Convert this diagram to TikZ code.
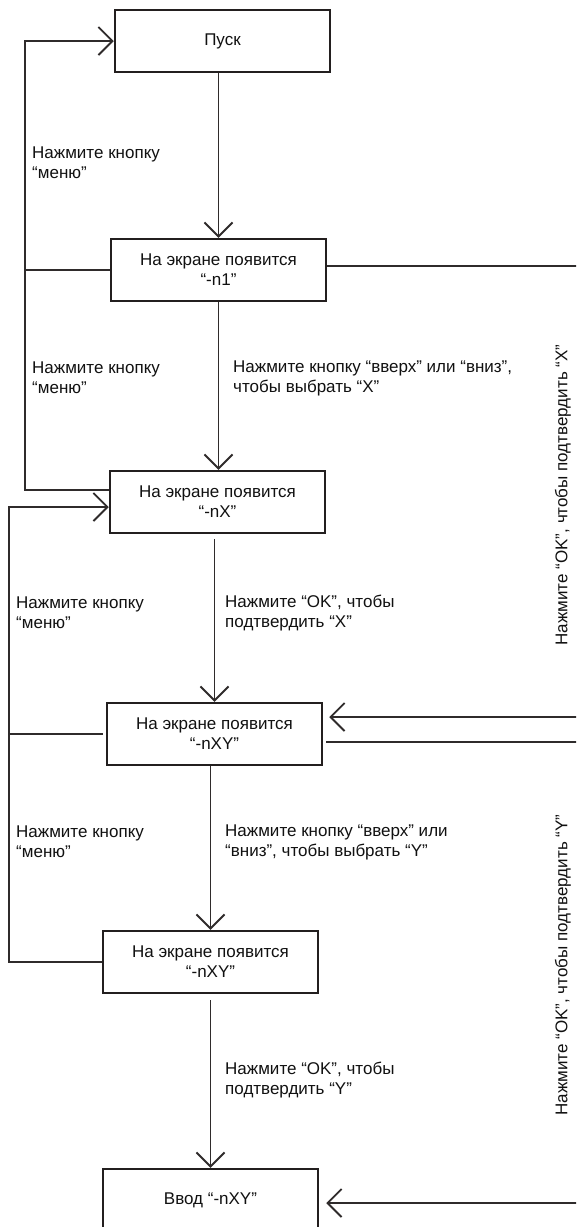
\documentclass[tikz,border=0pt]{standalone}
\usepackage{fontspec}
\setmainfont{Liberation Sans}
\usetikzlibrary{arrows.meta,calc}
\definecolor{linec}{HTML}{2F2B2B}
\definecolor{boxc}{HTML}{231F1F}
\definecolor{textc}{HTML}{111111}
\begin{document}
\begin{tikzpicture}[x=1pt,y=-1pt,
  font=\fontsize{17}{20}\selectfont,
  every node/.style={text=textc},
  box/.style={draw=boxc, line width=2.5pt, minimum width=215pt, minimum height=62pt, align=center, inner sep=0pt},
  conn/.style={draw=linec, line width=1.9pt},
  tip/.style={-{Straight Barb[length=14pt,width=28pt]}},
  lbl/.style={anchor=west, align=left, inner sep=0pt}
]
\clip (0,0) rectangle (576,1227);
\fill[white] (0,0) rectangle (576,1227);

% boxes
\node[box] (b1) at (222.5,41) {Пуск};
\node[box] (b2) at (218.5,270) {На экране появится\\“-n1”};
\node[box] (b3) at (217.5,502) {На экране появится\\“-nX”};
\node[box] (b4) at (214.5,734) {На экране появится\\“-nXY”};
\node[box] (b5) at (210.5,962) {На экране появится\\“-nXY”};
\node[box] (b6) at (210.5,1200) {Ввод “-nXY”};

% helper coordinates
\coordinate (lx1) at (25,0);
\coordinate (lx2) at (9,0);
\coordinate (rx) at (580,0);
\coordinate (out3) at ($(b3.west)+(0,-12)$);
\coordinate (in3) at ($(b3.west)+(0,5)$);
\coordinate (in4) at ($(b4.east)+(0,-17)$);
\coordinate (out4) at ($(b4.east)+(0,8)$);
\coordinate (out2) at ($(b2.east)+(0,-4)$);
\coordinate (in6) at ($(b6.east)+(0,3)$);

% main flow
\draw[conn,tip] (b1.south -| b2.north) -- (b2.north);
\draw[conn,tip] (b2.south) -- (b3.north -| b2.south);
\draw[conn,tip,shorten <=5pt] (b3.south -| b4.north) -- (b4.north);
\draw[conn,tip] (b4.south -| b5.north) -- (b5.north);
\draw[conn,tip,shorten <=6pt] (b5.south) -- (b6.north);

% left loops
\draw[conn,tip] (out3) -| (lx1 |- b1.west) -- (b1.west);
\draw[conn] (b2.west) -- (lx1 |- b2.west);
\draw[conn,tip] (b5.west) -| (lx2 |- in3) -- (in3);
\draw[conn,shorten <=3pt] (b4.west) -- (lx2 |- b4.west);

% right side
\draw[conn] (out2) -- (rx |- out2);
\draw[conn,tip,shorten >=6pt] (rx |- in4) -- (in4);
\draw[conn,shorten <=3pt] (out4) -- (rx |- out4);
\draw[conn,tip,shorten >=7pt] (rx |- in6) -- (in6);

% labels
\node[lbl] (l1) at (32,163) {Нажмите кнопку\\“меню”};
\node[lbl] (l2) at (32,378) {Нажмите кнопку\\“меню”};
\node[lbl] (l3) at (16,613) {Нажмите кнопку\\“меню”};
\node[lbl] (l4) at (16,842) {Нажмите кнопку\\“меню”};
\node[lbl] (t2) at (233,378) {Нажмите кнопку “вверх” или “вниз”,\\чтобы выбрать “X”};
\node[lbl] (t3) at (225,613) {Нажмите “OK”, чтобы\\подтвердить “X”};
\node[lbl] (t4) at (225,842) {Нажмите кнопку “вверх” или\\“вниз”, чтобы выбрать “Y”};
\node[lbl] (t5) at (225,1080) {Нажмите “OK”, чтобы\\подтвердить “Y”};
\node[rotate=90, inner sep=0pt] (r1) at (563,495) {Нажмите “OK”, чтобы подтвердить “X”};
\node[rotate=90, inner sep=0pt] (r2) at (563,965) {Нажмите “OK”, чтобы подтвердить “Y”};
\end{tikzpicture}
\end{document}
